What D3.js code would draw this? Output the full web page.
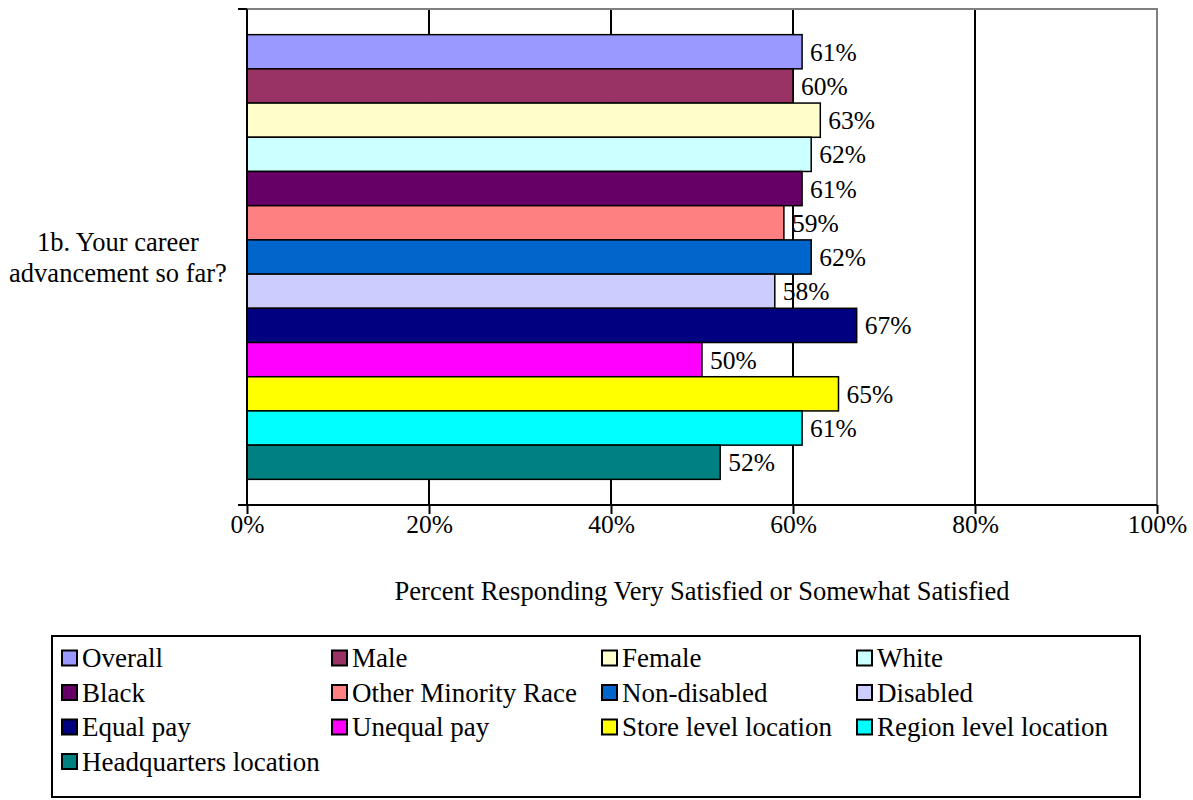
<!DOCTYPE html>
<html>
<head>
<meta charset="utf-8">
<script src="https://cdn.jsdelivr.net/npm/d3@7"></script>
<style>
  html, body { margin: 0; padding: 0; background: #fff; }
  svg { display: block; font-family: "Liberation Serif", "Times New Roman", serif; }
</style>
</head>
<body>
<svg id="chart" width="1193" height="800"></svg>
<script>
// Survey item shown on the category axis
const categories = ["1b. Your career advancement so far?"];
const categoryLines = ["1b. Your career", "advancement so far?"];

// Respondent groups (series), top to bottom
const seriesNames = [
  "Overall", "Male", "Female", "White", "Black", "Other Minority Race",
  "Non-disabled", "Disabled", "Equal pay", "Unequal pay",
  "Store level location", "Region level location", "Headquarters location"
];

// Percent responding very or somewhat satisfied
const seriesValues = [61, 60, 63, 62, 61, 59, 62, 58, 67, 50, 65, 61, 52];

const seriesColors = [
  "#9999FF", "#993366", "#FFFFCC", "#CCFFFF", "#660066", "#FF8080",
  "#0066CC", "#CCCCFF", "#000080", "#FF00FF", "#FFFF00", "#00FFFF", "#008080"
];

const xTicks = [0, 20, 40, 60, 80, 100];
const xTitle = "Percent Responding Very Satisfied or Somewhat Satisfied";

const svg = d3.select("#chart");
const FONT_LABEL = 25.5, FONT_TICK = 25.5, FONT_TITLE = 26.5, FONT_LEGEND = 27;

// Plot area
const plot = { left: 247, right: 1157, top: 9, bottom: 505 };

const x = d3.scaleLinear().domain([0, 100]).range([plot.left, plot.right]);
const y0 = d3.scaleBand().domain(categories).range([plot.top, plot.bottom]);

// Bars within the category, with a 150% gap split around the group
const gapRatio = 1.5;
const barH = y0.bandwidth() / (seriesNames.length + gapRatio);
const y1 = d3.scaleBand()
  .domain(seriesNames)
  .range([y0(categories[0]) + barH * gapRatio / 2,
          y0(categories[0]) + y0.bandwidth() - barH * gapRatio / 2]);

// Vertical gridlines
svg.append("g")
  .selectAll("line")
  .data(xTicks.filter(t => t > 0 && t < 100))
  .join("line")
  .attr("x1", d => x(d)).attr("x2", d => x(d))
  .attr("y1", plot.top).attr("y2", plot.bottom)
  .attr("stroke", "#000").attr("stroke-width", 2);

// Plot border (top and right)
svg.append("path")
  .attr("d", `M${plot.left},${plot.top}H${plot.right}V${plot.bottom}`)
  .attr("fill", "none").attr("stroke", "#808080").attr("stroke-width", 2);

// Bars
const rows = seriesNames.map((name, i) => ({ name, value: seriesValues[i], color: seriesColors[i] }));
svg.append("g")
  .selectAll("rect")
  .data(rows)
  .join("rect")
  .attr("x", x(0))
  .attr("y", d => y1(d.name))
  .attr("width", d => x(d.value) - x(0))
  .attr("height", y1.bandwidth())
  .attr("fill", d => d.color)
  .attr("stroke", "#000").attr("stroke-width", 1.5);

// Value labels
svg.append("g")
  .selectAll("text")
  .data(rows)
  .join("text")
  .attr("x", d => x(d.value) + 8)
  .attr("y", d => y1(d.name) + y1.bandwidth() / 2)
  .attr("dy", "0.35em")
  .attr("font-size", FONT_LABEL)
  .text(d => d.value + "%");

// X axis
const xAxis = d3.axisBottom(x)
  .tickValues(xTicks)
  .tickFormat(d => d + "%")
  .tickSize(9)
  .tickPadding(1);
const gx = svg.append("g")
  .attr("transform", `translate(0,${plot.bottom})`)
  .call(xAxis);
gx.select(".domain").remove();
gx.selectAll(".tick line").attr("stroke", "#000").attr("stroke-width", 2);
gx.selectAll(".tick text")
  .attr("font-size", FONT_TICK)
  .attr("font-family", "Liberation Serif")
  .attr("fill", "#000");
svg.append("line")
  .attr("x1", plot.left - 9).attr("x2", plot.right)
  .attr("y1", plot.bottom).attr("y2", plot.bottom)
  .attr("stroke", "#000").attr("stroke-width", 2);

// Category axis (left) with ticks at the band edges
svg.append("line")
  .attr("x1", plot.left).attr("x2", plot.left)
  .attr("y1", plot.top).attr("y2", plot.bottom)
  .attr("stroke", "#000").attr("stroke-width", 2);
svg.append("g")
  .selectAll("line")
  .data([y0.range()[0], y0.range()[1]])
  .join("line")
  .attr("x1", plot.left - 9).attr("x2", plot.left)
  .attr("y1", d => d).attr("y2", d => d)
  .attr("stroke", "#000").attr("stroke-width", 2);

// Category label
const catCenter = y0(categories[0]) + y0.bandwidth() / 2;
const lineGap = 31;
svg.append("text")
  .attr("text-anchor", "middle")
  .attr("font-size", FONT_TITLE)
  .selectAll("tspan")
  .data(categoryLines)
  .join("tspan")
  .attr("x", 118)
  .attr("y", (d, i) => catCenter + (i - (categoryLines.length - 1) / 2) * lineGap)
  .attr("dy", "0.35em")
  .text(d => d);

// Axis title
svg.append("text")
  .attr("x", (plot.left + plot.right) / 2)
  .attr("y", 600)
  .attr("text-anchor", "middle")
  .attr("font-size", FONT_TITLE)
  .text(xTitle);

// Legend
const legend = { left: 52, top: 636, right: 1140, bottom: 797 };
svg.append("rect")
  .attr("x", legend.left).attr("y", legend.top)
  .attr("width", legend.right - legend.left)
  .attr("height", legend.bottom - legend.top)
  .attr("fill", "#fff").attr("stroke", "#000").attr("stroke-width", 2);

const colX = [62, 332, 602, 857];
const rowY0 = 658, rowStep = 34.5, sw = 15;
const items = svg.append("g")
  .selectAll("g")
  .data(rows)
  .join("g")
  .attr("transform", (d, i) => `translate(${colX[i % 4]},${rowY0 + Math.floor(i / 4) * rowStep})`);
items.append("rect")
  .attr("x", 0).attr("y", -sw / 2)
  .attr("width", sw).attr("height", sw)
  .attr("fill", d => d.color)
  .attr("stroke", "#000").attr("stroke-width", 2);
items.append("text")
  .attr("x", sw + 5)
  .attr("dy", "0.35em")
  .attr("font-size", FONT_LEGEND)
  .text(d => d.name);
</script>
</body>
</html>
